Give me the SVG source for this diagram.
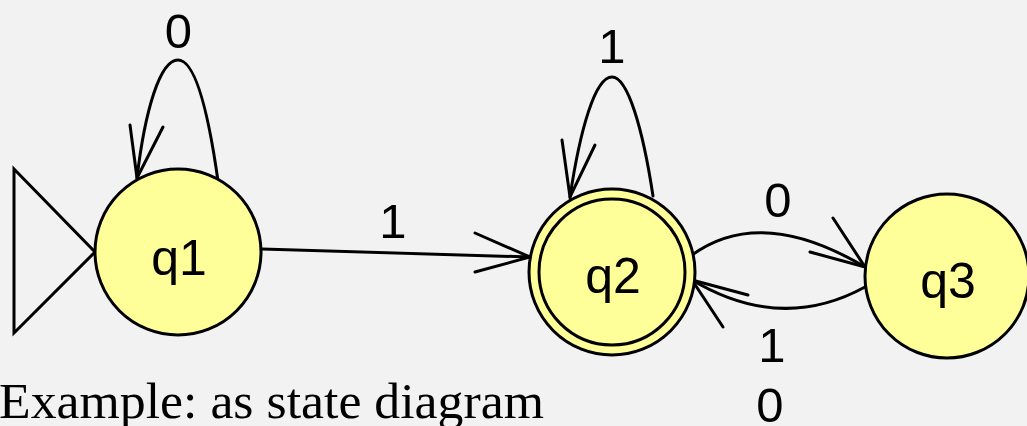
<svg xmlns="http://www.w3.org/2000/svg" width="1027" height="426" viewBox="0 0 1027 426">
<style>
.bg{fill:#f2f2f2}
.st{fill:#ffff99;stroke:#000;stroke-width:3}
.in{fill:none;stroke:#000;stroke-width:3}
.e{fill:none;stroke:#000;stroke-width:3;stroke-linecap:round;stroke-linejoin:miter}
.sl{font-family:"Liberation Sans",Arial,sans-serif;font-size:50px;fill:#000;text-anchor:middle}
.el{font-family:"Liberation Sans",Arial,sans-serif;font-size:49px;fill:#000;text-anchor:middle}
.cap{font-family:"Liberation Serif","Times New Roman",serif;font-size:51px;fill:#000}
</style>
<rect class="bg" x="0" y="0" width="1027" height="426"/>
<g id="connectors">
  <path class="e" d="M14,169 L95,252 L14,333 Z"/>
  <path class="e" d="M218,181 C208,110 195,60 178,60 C160,60 145,110 137,178"/>
  <path class="e" d="M130,125 L137,178 L163,127"/>
  <path class="e" d="M653,196 C643,130 628,77 612,77 C595,77 580,130 570,197"/>
  <path class="e" d="M562,140 L570,197 L595,145"/>
  <path class="e" d="M262,249 L530,257"/>
  <path class="e" d="M475,233 L530,257 L475,272"/>
  <path class="e" d="M692,255 Q761,205 865,267"/>
  <path class="e" d="M833,218 L865,267 L810,252"/>
  <path class="e" d="M865,287 Q781,333 692,280"/>
  <path class="e" d="M748,295 L692,280 L723,327"/>
  <text class="el" x="178.5" y="48">0</text>
  <text class="el" x="612" y="63">1</text>
  <text class="el" x="393" y="238">1</text>
  <text class="el" x="778" y="217">0</text>
  <text class="el" x="772" y="362">1</text>
  <text class="el" x="770" y="422">0</text>
</g>
<g id="q1">
  <circle class="st" cx="178" cy="252" r="83"/>
  <text class="sl" x="179" y="275">q1</text>
</g>
<g id="q2">
  <circle class="st" cx="612" cy="272" r="83"/>
  <circle class="in" cx="612" cy="272" r="73"/>
  <text class="sl" x="613" y="293">q2</text>
</g>
<g id="q3">
  <circle class="st" cx="947" cy="276" r="82"/>
  <text class="sl" x="948" y="298">q3</text>
</g>
<text class="cap" x="-1" y="418" textLength="545" lengthAdjust="spacingAndGlyphs">Example: as state diagram</text>
</svg>
